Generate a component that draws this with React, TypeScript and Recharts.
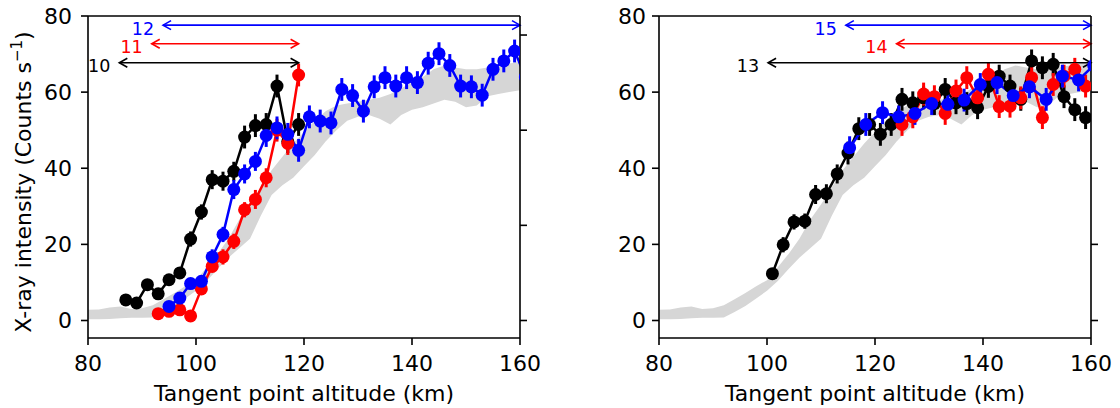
import { Area, ComposedChart, ErrorBar, Line, ReferenceLine, XAxis, YAxis } from 'recharts';

const FONT = 'DejaVu Sans';
const BLACK = '#000000';
const RED = '#ff0000';
const BLUE = '#0000ff';
const GREY = '#d6d6d6';

const xTicks = [80, 100, 120, 140, 160];
const yTicks = [0, 20, 40, 60, 80];

// model band, same in both panels
const bandX = [80, 82, 84, 86, 88, 90, 92, 94, 96, 98, 100, 102, 104, 106, 108, 110, 112, 114, 116, 118, 120,
  122, 124, 126, 128, 130, 132, 134, 136, 138, 140, 142, 144, 146, 148, 150, 152, 154, 156, 158, 160];
const bandLo = [0.3, 0.3, 0.4, 0.6, 0.7, 0.7, 0.8, 2.2, 3.8, 5.8, 7.8, 10.4, 13.5, 16.5, 19.0, 21.5, 27.5, 33.0, 35.5, 37.5, 40.5,
  43.5, 47.0, 50.0, 52.5, 53.5, 54.0, 53.0, 51.5, 54.0, 55.4, 56.0, 57.0, 58.0, 57.5, 56.0, 56.5, 58.9, 59.5, 60.0, 60.5];
const bandHi = [2.8, 2.9, 3.4, 3.7, 3.0, 3.2, 4.0, 5.6, 7.2, 9.0, 10.6, 14.0, 17.5, 21.5, 26.5, 30.5, 35.0, 39.5, 43.0, 46.5, 49.5,
  52.5, 55.0, 56.5, 57.0, 57.5, 58.0, 58.5, 59.5, 61.0, 62.5, 64.0, 66.0, 67.0, 66.5, 66.0, 66.0, 66.5, 67.0, 67.5, 68.0];

// left panel
const s10x = [87, 89, 91, 93, 95, 97, 99, 101, 103, 105, 107, 109, 111, 113, 115, 117, 119];
const s10y = [5.4, 4.6, 9.4, 7.0, 10.7, 12.5, 21.4, 28.5, 37.0, 36.6, 39.2, 48.2, 51.2, 51.5, 61.6, 47.0, 51.5];
const s10e = [1, 1, 1, 1, 1, 1, 2, 2, 2.5, 2.5, 2.5, 3, 3, 3, 3, 3, 3];

const s11x = [93, 95, 97, 99, 101, 103, 105, 107, 109, 111, 113, 115, 117, 119];
const s11y = [1.8, 2.4, 2.8, 1.2, 8.3, 14.2, 16.7, 20.8, 29.1, 31.8, 37.5, 50.0, 46.5, 64.5];
const s11e = [1, 1, 1, 1, 1, 1, 2, 2, 2, 2.5, 2.5, 3, 3, 3];

const s12x = [95, 97, 99, 101, 103, 105, 107, 109, 111, 113, 115, 117, 119, 121, 123, 125, 127, 129, 131, 133,
  135, 137, 139, 141, 143, 145, 147, 149, 151, 153, 155, 157, 159, 161];
const s12y = [3.7, 5.9, 9.7, 10.3, 16.7, 22.6, 34.4, 38.5, 41.8, 48.6, 50.6, 48.9, 44.7, 53.5, 52.4, 51.9, 60.7, 59.1, 55.0, 61.4,
  63.8, 61.6, 63.8, 62.5, 67.6, 70.1, 67.0, 61.6, 61.4, 59.2, 66.0, 68.2, 70.8, 64.0];
const s12e = [1, 1, 1, 1, 2, 2, 2.5, 2.5, 2.5, 3, 3, 3, 3, 3, 3, 3, 3, 3, 3, 3,
  3, 3, 3, 3, 3, 3, 3, 3, 3, 3, 3, 3, 3, 0];

// right panel
const s13x = [101, 103, 105, 107, 109, 111, 113, 115, 117, 119, 121, 123, 125, 127, 129, 131, 133, 135, 137, 139,
  141, 143, 145, 147, 149, 151, 153, 155, 157, 159];
const s13y = [12.3, 19.9, 25.9, 26.1, 33.1, 33.3, 38.5, 44.0, 50.4, 51.5, 48.9, 51.5, 58.1, 57.2, 58.5, 57.0, 60.7, 57.2, 57.0, 55.9,
  61.5, 64.2, 61.6, 58.1, 68.2, 66.4, 67.3, 58.8, 55.4, 53.3];
const s13e = [1, 2, 2, 2, 2.5, 2.5, 2.5, 3, 3, 3, 3, 3, 3, 3, 3, 3, 3, 3, 3, 3,
  3, 3, 3, 3, 3, 3, 3, 3, 3, 3];

const s14x = [125, 127, 129, 131, 133, 135, 137, 139, 141, 143, 145, 147, 149, 151, 153, 155, 157, 159];
const s14y = [51.5, 53.5, 59.5, 58.8, 54.4, 60.3, 63.8, 58.5, 64.7, 56.2, 56.3, 58.5, 63.8, 53.3, 62.0, 64.2, 66.0, 61.6];
const s14e = [3, 3, 3, 3, 3, 3, 3, 3, 3, 3, 3, 3, 3, 3, 3, 3, 3, 3];

const s15x = [115.3, 118.3, 121.4, 124.4, 127.4, 130.5, 133.5, 136.5, 139.5, 142.6, 145.6, 148.6, 151.7, 154.7, 157.7, 160.5];
const s15y = [45.4, 51.5, 54.6, 53.5, 54.4, 57.0, 56.8, 57.9, 62.0, 62.5, 59.1, 61.4, 58.1, 64.2, 63.2, 67.0];
const s15e = [3, 3, 3, 3, 3, 3, 3, 3, 3, 3, 3, 3, 3, 3, 3, 0];

type Arrow = { label: string; color: string; from: number; to: number; level: number };

const leftArrows: Arrow[] = [
  { label: '12', color: BLUE, from: 93.9, to: 160, level: 77.6 },
  { label: '11', color: RED, from: 91.8, to: 119, level: 72.7 },
  { label: '10', color: BLACK, from: 85.8, to: 119, level: 67.7 },
];
const rightArrows: Arrow[] = [
  { label: '15', color: BLUE, from: 114.6, to: 160, level: 77.6 },
  { label: '14', color: RED, from: 124, to: 160, level: 72.7 },
  { label: '13', color: BLACK, from: 100.2, to: 160, level: 67.7 },
];

const pts = (xs: number[], ys: number[], es: number[]) => xs.map((x, i) => ({ x, y: ys[i], e: es[i] }));
const band = bandX.map((x, i) => ({ x, r: [bandLo[i], bandHi[i]] }));

const arrowShape = (a: Arrow) => (p: any) => {
  const { x1, y1, x2 } = p;
  const h = 8;
  const w = 4.5;
  return (
    <g>
      <line x1={x1} y1={y1} x2={x2} y2={y1} stroke={a.color} strokeWidth={1.6} />
      <polyline points={`${x1 + h},${y1 - w} ${x1},${y1} ${x1 + h},${y1 + w}`} fill="none" stroke={a.color} strokeWidth={1.6} />
      <polyline points={`${x2 - h},${y1 - w} ${x2},${y1} ${x2 - h},${y1 + w}`} fill="none" stroke={a.color} strokeWidth={1.6} />
      <text x={x1 - 9} y={y1 + 3.5} textAnchor="end" dominantBaseline="central" fill={a.color} fontSize={17.5} fontFamily={FONT}>
        {a.label}
      </text>
    </g>
  );
};

const YLabel = () => (
  <text x={31} y={182} transform="rotate(-90, 31, 182)" textAnchor="middle" fill={BLACK} fontSize={22} fontFamily={FONT}>
    X-ray intensity (Counts s<tspan dy={-9} fontSize={15}>−1</tspan><tspan dy={9}>)</tspan>
  </text>
);

type Series = { data: { x: number; y: number; e: number }[]; color: string };

function Panel({ series, arrows, rightTicks, yLabel, tickMargin }: {
  series: Series[]; arrows: Arrow[]; rightTicks: number[]; yLabel: boolean; tickMargin: number;
}) {
  const axisStroke = { stroke: BLACK, strokeWidth: 1.6 };
  const tickStyle = { fill: BLACK, fontSize: 22, fontFamily: FONT };
  return (
    <ComposedChart width={549} height={408} margin={{ top: 16, right: 19, bottom: 0, left: 28 }}>
      <XAxis
        dataKey="x"
        type="number"
        domain={[80, 160]}
        allowDataOverflow
        ticks={xTicks}
        height={70}
        tickSize={7}
        tickMargin={10}
        tick={tickStyle}
        axisLine={axisStroke}
        tickLine={axisStroke}
        label={{ value: 'Tangent point altitude (km)', position: 'insideBottom', offset: 7, fill: BLACK, fontSize: 22, fontFamily: FONT }}
      />
      <YAxis
        type="number"
        domain={[-4.6, 80]}
        allowDataOverflow
        ticks={yTicks}
        width={60}
        tickSize={7}
        tickMargin={tickMargin}
        tick={tickStyle}
        axisLine={axisStroke}
        tickLine={axisStroke}
        label={yLabel ? { content: () => <YLabel /> } : undefined}
      />
      <YAxis
        yAxisId="r"
        orientation="right"
        type="number"
        domain={[-4.6, 80]}
        allowDataOverflow
        ticks={rightTicks}
        width={10}
        tickSize={7}
        tick={() => <g />}
        axisLine={axisStroke}
        tickLine={axisStroke}
      />
      <Area
        data={band}
        dataKey="r"
        type="linear"
        stroke="none"
        fill={GREY}
        fillOpacity={1}
        dot={false}
        activeDot={false}
        isAnimationActive={false}
      />
      {series.map((s, i) => (
        <Line
          key={i}
          data={s.data}
          dataKey="y"
          type="linear"
          stroke={s.color}
          strokeWidth={2.5}
          dot={{ r: 6.5, fill: s.color, stroke: s.color, strokeWidth: 0 }}
          activeDot={false}
          isAnimationActive={false}
        >
          <ErrorBar dataKey="e" direction="y" width={0} stroke={s.color} strokeWidth={3} isAnimationActive={false} />
        </Line>
      ))}
      <ReferenceLine y={80} stroke={BLACK} strokeWidth={1.6} />
      {arrows.map((a) => (
        <ReferenceLine
          key={a.label}
          segment={[{ x: a.from, y: a.level }, { x: a.to, y: a.level }]}
          shape={arrowShape(a)}
        />
      ))}
    </ComposedChart>
  );
}

export default function App() {
  return (
    <div style={{ position: 'absolute', left: 0, top: 0, width: 1120, height: 408, background: '#fff' }}>
      <div style={{ position: 'absolute', left: 0, top: 0 }}>
        <Panel
          series={[
            { data: pts(s10x, s10y, s10e), color: BLACK },
            { data: pts(s11x, s11y, s11e), color: RED },
            { data: pts(s12x, s12y, s12e), color: BLUE },
          ]}
          arrows={leftArrows}
          rightTicks={[0, 25, 50, 75]}
          yLabel
          tickMargin={9}
        />
      </div>
      <div style={{ position: 'absolute', left: 571, top: 0 }}>
        <Panel
          series={[
            { data: pts(s13x, s13y, s13e), color: BLACK },
            { data: pts(s14x, s14y, s14e), color: RED },
            { data: pts(s15x, s15y, s15e), color: BLUE },
          ]}
          arrows={rightArrows}
          rightTicks={[0, 20, 40, 60]}
          yLabel={false}
          tickMargin={6}
        />
      </div>
    </div>
  );
}
